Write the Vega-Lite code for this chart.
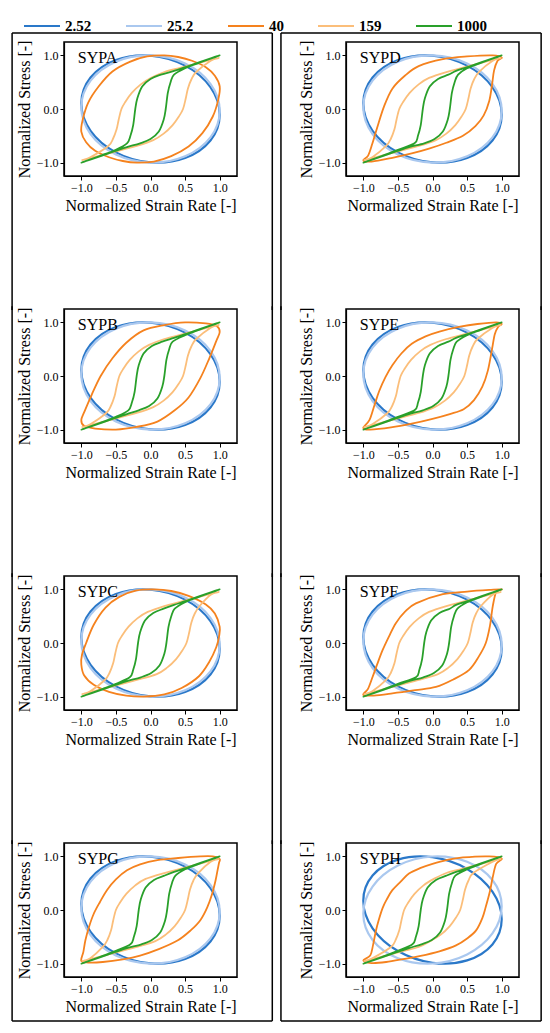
{
  "$schema": "https://vega.github.io/schema/vega-lite/v6.json",
  "background": "white",
  "padding": {"left": 10, "top": 7, "right": 9, "bottom": 10},
  "config": {
    "view": {"stroke": "black", "strokeWidth": 1.5},
    "font": "Liberation Serif",
    "axis": {
      "labelFont": "Liberation Serif", "labelFontSize": 12, "labelColor": "black", "labelPadding": 2,
      "titleFont": "Liberation Serif", "titleFontSize": 16, "titleFontWeight": "normal", "titleColor": "black", "titlePadding": 4,
      "domainColor": "black", "domainWidth": 1.2, "tickColor": "black", "tickSize": 4, "grid": false
    },
    "legend": {
      "symbolType": "stroke", "symbolSize": 1296, "symbolStrokeWidth": 2,
      "labelFont": "Liberation Serif", "labelFontSize": 15, "labelFontWeight": "bold", "labelColor": "black",
      "labelOffset": 4, "columnPadding": 30
    }
  },
  "datasets": {
    "SYPA": [
      {"s":"2.52","x":1,"y":-0.105},{"s":"2.52","x":0.866,"y":0.407},{"s":"2.52","x":0.5,"y":0.809},{"s":"2.52","x":0,"y":0.995},{"s":"2.52","x":-0.5,"y":0.914},{"s":"2.52","x":-0.866,"y":0.588},{"s":"2.52","x":-1,"y":0.105},{"s":"2.52","x":-0.866,"y":-0.407},{"s":"2.52","x":-0.5,"y":-0.809},{"s":"2.52","x":0,"y":-0.995},{"s":"2.52","x":0.5,"y":-0.914},{"s":"2.52","x":0.866,"y":-0.588},
      {"s":"25.2","x":1,"y":-0.035},{"s":"25.2","x":0.866,"y":0.469},{"s":"25.2","x":0.5,"y":0.848},{"s":"25.2","x":0,"y":0.999},{"s":"25.2","x":-0.5,"y":0.883},{"s":"25.2","x":-0.866,"y":0.53},{"s":"25.2","x":-1,"y":0.035},{"s":"25.2","x":-0.866,"y":-0.469},{"s":"25.2","x":-0.5,"y":-0.848},{"s":"25.2","x":0,"y":-0.999},{"s":"25.2","x":0.5,"y":-0.883},{"s":"25.2","x":0.866,"y":-0.53},
      {"s":"40","x":1,"y":0.42},{"s":"40","x":0.93,"y":0.62},{"s":"40","x":0.8,"y":0.78},{"s":"40","x":0.6,"y":0.9},{"s":"40","x":0.4,"y":0.97},{"s":"40","x":0.2,"y":1},{"s":"40","x":-0.05,"y":0.98},{"s":"40","x":-0.3,"y":0.88},{"s":"40","x":-0.55,"y":0.7},{"s":"40","x":-0.75,"y":0.42},{"s":"40","x":-0.9,"y":0.12},{"s":"40","x":-0.98,"y":-0.2},{"s":"40","x":-1,"y":-0.42},{"s":"40","x":-0.93,"y":-0.62},{"s":"40","x":-0.8,"y":-0.78},{"s":"40","x":-0.6,"y":-0.9},{"s":"40","x":-0.4,"y":-0.97},{"s":"40","x":-0.2,"y":-1},{"s":"40","x":0.05,"y":-0.98},{"s":"40","x":0.3,"y":-0.88},{"s":"40","x":0.55,"y":-0.7},{"s":"40","x":0.75,"y":-0.45},{"s":"40","x":0.9,"y":-0.14},{"s":"40","x":0.98,"y":0.18},
      {"s":"159","x":0.98,"y":0.95},{"s":"159","x":0.7,"y":0.86},{"s":"159","x":0.44,"y":0.77},{"s":"159","x":0.2,"y":0.69},{"s":"159","x":0.01,"y":0.58},{"s":"159","x":-0.14,"y":0.46},{"s":"159","x":-0.27,"y":0.3},{"s":"159","x":-0.36,"y":0.14},{"s":"159","x":-0.42,"y":0},{"s":"159","x":-0.46,"y":-0.2},{"s":"159","x":-0.49,"y":-0.38},{"s":"159","x":-0.54,"y":-0.55},{"s":"159","x":-0.61,"y":-0.69},{"s":"159","x":-0.87,"y":-0.9},{"s":"159","x":-0.98,"y":-0.95},{"s":"159","x":-0.7,"y":-0.86},{"s":"159","x":-0.44,"y":-0.77},{"s":"159","x":-0.2,"y":-0.69},{"s":"159","x":0.04,"y":-0.58},{"s":"159","x":0.19,"y":-0.46},{"s":"159","x":0.32,"y":-0.3},{"s":"159","x":0.41,"y":-0.14},{"s":"159","x":0.47,"y":0},{"s":"159","x":0.51,"y":0.2},{"s":"159","x":0.54,"y":0.38},{"s":"159","x":0.59,"y":0.55},{"s":"159","x":0.66,"y":0.69},{"s":"159","x":0.87,"y":0.9},
      {"s":"1000","x":1,"y":1},{"s":"1000","x":0.7,"y":0.87},{"s":"1000","x":0.5,"y":0.78},{"s":"1000","x":0.34,"y":0.71},{"s":"1000","x":0.15,"y":0.64},{"s":"1000","x":0,"y":0.56},{"s":"1000","x":-0.12,"y":0.42},{"s":"1000","x":-0.19,"y":0.2},{"s":"1000","x":-0.22,"y":0},{"s":"1000","x":-0.25,"y":-0.3},{"s":"1000","x":-0.29,"y":-0.5},{"s":"1000","x":-0.34,"y":-0.64},{"s":"1000","x":-0.5,"y":-0.76},{"s":"1000","x":-0.7,"y":-0.86},{"s":"1000","x":-1,"y":-1},{"s":"1000","x":-0.7,"y":-0.87},{"s":"1000","x":-0.5,"y":-0.78},{"s":"1000","x":-0.34,"y":-0.71},{"s":"1000","x":-0.15,"y":-0.64},{"s":"1000","x":0,"y":-0.56},{"s":"1000","x":0.12,"y":-0.42},{"s":"1000","x":0.19,"y":-0.2},{"s":"1000","x":0.22,"y":0},{"s":"1000","x":0.25,"y":0.3},{"s":"1000","x":0.29,"y":0.5},{"s":"1000","x":0.34,"y":0.64},{"s":"1000","x":0.5,"y":0.76},{"s":"1000","x":0.7,"y":0.86}
    ],
    "SYPB": [
      {"s":"2.52","x":1,"y":-0.105},{"s":"2.52","x":0.866,"y":0.407},{"s":"2.52","x":0.5,"y":0.809},{"s":"2.52","x":0,"y":0.995},{"s":"2.52","x":-0.5,"y":0.914},{"s":"2.52","x":-0.866,"y":0.588},{"s":"2.52","x":-1,"y":0.105},{"s":"2.52","x":-0.866,"y":-0.407},{"s":"2.52","x":-0.5,"y":-0.809},{"s":"2.52","x":0,"y":-0.995},{"s":"2.52","x":0.5,"y":-0.914},{"s":"2.52","x":0.866,"y":-0.588},
      {"s":"25.2","x":1,"y":-0.035},{"s":"25.2","x":0.866,"y":0.469},{"s":"25.2","x":0.5,"y":0.848},{"s":"25.2","x":0,"y":0.999},{"s":"25.2","x":-0.5,"y":0.883},{"s":"25.2","x":-0.866,"y":0.53},{"s":"25.2","x":-1,"y":0.035},{"s":"25.2","x":-0.866,"y":-0.469},{"s":"25.2","x":-0.5,"y":-0.848},{"s":"25.2","x":0,"y":-0.999},{"s":"25.2","x":0.5,"y":-0.883},{"s":"25.2","x":0.866,"y":-0.53},
      {"s":"40","x":1,"y":0.82},{"s":"40","x":0.96,"y":0.93},{"s":"40","x":0.8,"y":0.98},{"s":"40","x":0.5,"y":1},{"s":"40","x":0.2,"y":0.95},{"s":"40","x":-0.1,"y":0.85},{"s":"40","x":-0.35,"y":0.62},{"s":"40","x":-0.55,"y":0.33},{"s":"40","x":-0.72,"y":0},{"s":"40","x":-0.85,"y":-0.35},{"s":"40","x":-0.95,"y":-0.65},{"s":"40","x":-1,"y":-0.82},{"s":"40","x":-0.96,"y":-0.93},{"s":"40","x":-0.8,"y":-0.98},{"s":"40","x":-0.5,"y":-1},{"s":"40","x":-0.2,"y":-0.95},{"s":"40","x":0.1,"y":-0.85},{"s":"40","x":0.35,"y":-0.64},{"s":"40","x":0.55,"y":-0.4},{"s":"40","x":0.72,"y":-0.04},{"s":"40","x":0.85,"y":0.33},{"s":"40","x":0.95,"y":0.65},
      {"s":"159","x":0.98,"y":0.95},{"s":"159","x":0.7,"y":0.86},{"s":"159","x":0.44,"y":0.77},{"s":"159","x":0.2,"y":0.69},{"s":"159","x":-0.02,"y":0.58},{"s":"159","x":-0.17,"y":0.46},{"s":"159","x":-0.3,"y":0.3},{"s":"159","x":-0.39,"y":0.14},{"s":"159","x":-0.45,"y":0},{"s":"159","x":-0.49,"y":-0.2},{"s":"159","x":-0.52,"y":-0.38},{"s":"159","x":-0.57,"y":-0.55},{"s":"159","x":-0.64,"y":-0.69},{"s":"159","x":-0.87,"y":-0.9},{"s":"159","x":-0.98,"y":-0.95},{"s":"159","x":-0.7,"y":-0.86},{"s":"159","x":-0.44,"y":-0.77},{"s":"159","x":-0.2,"y":-0.69},{"s":"159","x":0.04,"y":-0.58},{"s":"159","x":0.19,"y":-0.46},{"s":"159","x":0.32,"y":-0.3},{"s":"159","x":0.41,"y":-0.14},{"s":"159","x":0.47,"y":0},{"s":"159","x":0.51,"y":0.2},{"s":"159","x":0.54,"y":0.38},{"s":"159","x":0.59,"y":0.55},{"s":"159","x":0.66,"y":0.69},{"s":"159","x":0.87,"y":0.9},
      {"s":"1000","x":1,"y":1},{"s":"1000","x":0.7,"y":0.87},{"s":"1000","x":0.5,"y":0.78},{"s":"1000","x":0.34,"y":0.71},{"s":"1000","x":0.17,"y":0.64},{"s":"1000","x":0.02,"y":0.56},{"s":"1000","x":-0.1,"y":0.42},{"s":"1000","x":-0.17,"y":0.2},{"s":"1000","x":-0.2,"y":0},{"s":"1000","x":-0.23,"y":-0.3},{"s":"1000","x":-0.27,"y":-0.5},{"s":"1000","x":-0.32,"y":-0.64},{"s":"1000","x":-0.5,"y":-0.76},{"s":"1000","x":-0.7,"y":-0.86},{"s":"1000","x":-1,"y":-1},{"s":"1000","x":-0.7,"y":-0.87},{"s":"1000","x":-0.5,"y":-0.78},{"s":"1000","x":-0.34,"y":-0.71},{"s":"1000","x":-0.17,"y":-0.64},{"s":"1000","x":-0.02,"y":-0.56},{"s":"1000","x":0.1,"y":-0.42},{"s":"1000","x":0.17,"y":-0.2},{"s":"1000","x":0.2,"y":0},{"s":"1000","x":0.23,"y":0.3},{"s":"1000","x":0.27,"y":0.5},{"s":"1000","x":0.32,"y":0.64},{"s":"1000","x":0.5,"y":0.76},{"s":"1000","x":0.7,"y":0.86}
    ],
    "SYPC": [
      {"s":"2.52","x":1,"y":-0.105},{"s":"2.52","x":0.866,"y":0.407},{"s":"2.52","x":0.5,"y":0.809},{"s":"2.52","x":0,"y":0.995},{"s":"2.52","x":-0.5,"y":0.914},{"s":"2.52","x":-0.866,"y":0.588},{"s":"2.52","x":-1,"y":0.105},{"s":"2.52","x":-0.866,"y":-0.407},{"s":"2.52","x":-0.5,"y":-0.809},{"s":"2.52","x":0,"y":-0.995},{"s":"2.52","x":0.5,"y":-0.914},{"s":"2.52","x":0.866,"y":-0.588},
      {"s":"25.2","x":1,"y":-0.035},{"s":"25.2","x":0.866,"y":0.469},{"s":"25.2","x":0.5,"y":0.848},{"s":"25.2","x":0,"y":0.999},{"s":"25.2","x":-0.5,"y":0.883},{"s":"25.2","x":-0.866,"y":0.53},{"s":"25.2","x":-1,"y":0.035},{"s":"25.2","x":-0.866,"y":-0.469},{"s":"25.2","x":-0.5,"y":-0.848},{"s":"25.2","x":0,"y":-0.999},{"s":"25.2","x":0.5,"y":-0.883},{"s":"25.2","x":0.866,"y":-0.53},
      {"s":"40","x":1,"y":0.3},{"s":"40","x":0.93,"y":0.55},{"s":"40","x":0.8,"y":0.72},{"s":"40","x":0.55,"y":0.88},{"s":"40","x":0.3,"y":0.97},{"s":"40","x":0.05,"y":1},{"s":"40","x":-0.2,"y":0.98},{"s":"40","x":-0.45,"y":0.86},{"s":"40","x":-0.65,"y":0.66},{"s":"40","x":-0.82,"y":0.34},{"s":"40","x":-0.93,"y":0},{"s":"40","x":-0.99,"y":-0.22},{"s":"40","x":-1,"y":-0.4},{"s":"40","x":-0.96,"y":-0.6},{"s":"40","x":-0.82,"y":-0.78},{"s":"40","x":-0.6,"y":-0.91},{"s":"40","x":-0.35,"y":-0.98},{"s":"40","x":-0.1,"y":-1},{"s":"40","x":0.2,"y":-0.96},{"s":"40","x":0.45,"y":-0.84},{"s":"40","x":0.7,"y":-0.62},{"s":"40","x":0.85,"y":-0.35},{"s":"40","x":0.95,"y":-0.08},{"s":"40","x":0.99,"y":0.12},
      {"s":"159","x":0.98,"y":0.95},{"s":"159","x":0.7,"y":0.86},{"s":"159","x":0.44,"y":0.77},{"s":"159","x":0.2,"y":0.69},{"s":"159","x":-0.04,"y":0.58},{"s":"159","x":-0.19,"y":0.46},{"s":"159","x":-0.32,"y":0.3},{"s":"159","x":-0.41,"y":0.14},{"s":"159","x":-0.47,"y":0},{"s":"159","x":-0.51,"y":-0.2},{"s":"159","x":-0.54,"y":-0.38},{"s":"159","x":-0.59,"y":-0.55},{"s":"159","x":-0.66,"y":-0.69},{"s":"159","x":-0.87,"y":-0.9},{"s":"159","x":-0.98,"y":-0.95},{"s":"159","x":-0.7,"y":-0.86},{"s":"159","x":-0.44,"y":-0.77},{"s":"159","x":-0.2,"y":-0.69},{"s":"159","x":0.09,"y":-0.58},{"s":"159","x":0.24,"y":-0.46},{"s":"159","x":0.37,"y":-0.3},{"s":"159","x":0.46,"y":-0.14},{"s":"159","x":0.52,"y":0},{"s":"159","x":0.56,"y":0.2},{"s":"159","x":0.59,"y":0.38},{"s":"159","x":0.64,"y":0.55},{"s":"159","x":0.71,"y":0.69},{"s":"159","x":0.87,"y":0.9},
      {"s":"1000","x":1,"y":1},{"s":"1000","x":0.7,"y":0.87},{"s":"1000","x":0.5,"y":0.78},{"s":"1000","x":0.34,"y":0.71},{"s":"1000","x":0.19,"y":0.64},{"s":"1000","x":0.04,"y":0.56},{"s":"1000","x":-0.08,"y":0.42},{"s":"1000","x":-0.15,"y":0.2},{"s":"1000","x":-0.18,"y":0},{"s":"1000","x":-0.21,"y":-0.3},{"s":"1000","x":-0.25,"y":-0.5},{"s":"1000","x":-0.3,"y":-0.64},{"s":"1000","x":-0.5,"y":-0.76},{"s":"1000","x":-0.7,"y":-0.86},{"s":"1000","x":-1,"y":-1},{"s":"1000","x":-0.7,"y":-0.87},{"s":"1000","x":-0.5,"y":-0.78},{"s":"1000","x":-0.34,"y":-0.71},{"s":"1000","x":-0.14,"y":-0.64},{"s":"1000","x":0.01,"y":-0.56},{"s":"1000","x":0.13,"y":-0.42},{"s":"1000","x":0.2,"y":-0.2},{"s":"1000","x":0.23,"y":0},{"s":"1000","x":0.26,"y":0.3},{"s":"1000","x":0.3,"y":0.5},{"s":"1000","x":0.35,"y":0.64},{"s":"1000","x":0.5,"y":0.76},{"s":"1000","x":0.7,"y":0.86}
    ],
    "SYPD": [
      {"s":"2.52","x":1,"y":-0.105},{"s":"2.52","x":0.866,"y":0.407},{"s":"2.52","x":0.5,"y":0.809},{"s":"2.52","x":0,"y":0.995},{"s":"2.52","x":-0.5,"y":0.914},{"s":"2.52","x":-0.866,"y":0.588},{"s":"2.52","x":-1,"y":0.105},{"s":"2.52","x":-0.866,"y":-0.407},{"s":"2.52","x":-0.5,"y":-0.809},{"s":"2.52","x":0,"y":-0.995},{"s":"2.52","x":0.5,"y":-0.914},{"s":"2.52","x":0.866,"y":-0.588},
      {"s":"25.2","x":1,"y":-0.035},{"s":"25.2","x":0.866,"y":0.469},{"s":"25.2","x":0.5,"y":0.848},{"s":"25.2","x":0,"y":0.999},{"s":"25.2","x":-0.5,"y":0.883},{"s":"25.2","x":-0.866,"y":0.53},{"s":"25.2","x":-1,"y":0.035},{"s":"25.2","x":-0.866,"y":-0.469},{"s":"25.2","x":-0.5,"y":-0.848},{"s":"25.2","x":0,"y":-0.999},{"s":"25.2","x":0.5,"y":-0.883},{"s":"25.2","x":0.866,"y":-0.53},
      {"s":"40","x":1,"y":0.96},{"s":"40","x":0.87,"y":1},{"s":"40","x":0.5,"y":0.98},{"s":"40","x":0.15,"y":0.93},{"s":"40","x":-0.2,"y":0.8},{"s":"40","x":-0.4,"y":0.62},{"s":"40","x":-0.58,"y":0.38},{"s":"40","x":-0.7,"y":0.05},{"s":"40","x":-0.8,"y":-0.35},{"s":"40","x":-0.87,"y":-0.65},{"s":"40","x":-0.93,"y":-0.87},{"s":"40","x":-1,"y":-0.96},{"s":"40","x":-0.88,"y":-0.98},{"s":"40","x":-0.58,"y":-0.91},{"s":"40","x":-0.3,"y":-0.83},{"s":"40","x":-0.05,"y":-0.74},{"s":"40","x":0.2,"y":-0.63},{"s":"40","x":0.44,"y":-0.5},{"s":"40","x":0.62,"y":-0.32},{"s":"40","x":0.74,"y":-0.12},{"s":"40","x":0.82,"y":0.15},{"s":"40","x":0.86,"y":0.45},{"s":"40","x":0.89,"y":0.72},{"s":"40","x":0.94,"y":0.9},
      {"s":"159","x":0.98,"y":0.95},{"s":"159","x":0.7,"y":0.86},{"s":"159","x":0.44,"y":0.77},{"s":"159","x":0.2,"y":0.69},{"s":"159","x":-0.05,"y":0.58},{"s":"159","x":-0.2,"y":0.46},{"s":"159","x":-0.33,"y":0.3},{"s":"159","x":-0.42,"y":0.14},{"s":"159","x":-0.48,"y":0},{"s":"159","x":-0.52,"y":-0.2},{"s":"159","x":-0.55,"y":-0.38},{"s":"159","x":-0.6,"y":-0.55},{"s":"159","x":-0.67,"y":-0.69},{"s":"159","x":-0.87,"y":-0.9},{"s":"159","x":-0.98,"y":-0.95},{"s":"159","x":-0.7,"y":-0.86},{"s":"159","x":-0.44,"y":-0.77},{"s":"159","x":-0.2,"y":-0.69},{"s":"159","x":0.05,"y":-0.58},{"s":"159","x":0.2,"y":-0.46},{"s":"159","x":0.33,"y":-0.3},{"s":"159","x":0.42,"y":-0.14},{"s":"159","x":0.48,"y":0},{"s":"159","x":0.52,"y":0.2},{"s":"159","x":0.55,"y":0.38},{"s":"159","x":0.6,"y":0.55},{"s":"159","x":0.67,"y":0.69},{"s":"159","x":0.87,"y":0.9},
      {"s":"1000","x":1,"y":1},{"s":"1000","x":0.7,"y":0.87},{"s":"1000","x":0.5,"y":0.78},{"s":"1000","x":0.34,"y":0.71},{"s":"1000","x":0.23,"y":0.64},{"s":"1000","x":0.08,"y":0.56},{"s":"1000","x":-0.04,"y":0.42},{"s":"1000","x":-0.11,"y":0.2},{"s":"1000","x":-0.14,"y":0},{"s":"1000","x":-0.17,"y":-0.3},{"s":"1000","x":-0.21,"y":-0.5},{"s":"1000","x":-0.26,"y":-0.64},{"s":"1000","x":-0.5,"y":-0.76},{"s":"1000","x":-0.7,"y":-0.86},{"s":"1000","x":-1,"y":-1},{"s":"1000","x":-0.7,"y":-0.87},{"s":"1000","x":-0.5,"y":-0.78},{"s":"1000","x":-0.34,"y":-0.71},{"s":"1000","x":-0.12,"y":-0.64},{"s":"1000","x":0.03,"y":-0.56},{"s":"1000","x":0.15,"y":-0.42},{"s":"1000","x":0.22,"y":-0.2},{"s":"1000","x":0.25,"y":0},{"s":"1000","x":0.28,"y":0.3},{"s":"1000","x":0.32,"y":0.5},{"s":"1000","x":0.37,"y":0.64},{"s":"1000","x":0.5,"y":0.76},{"s":"1000","x":0.7,"y":0.86}
    ],
    "SYPE": [
      {"s":"2.52","x":1,"y":-0.105},{"s":"2.52","x":0.866,"y":0.407},{"s":"2.52","x":0.5,"y":0.809},{"s":"2.52","x":0,"y":0.995},{"s":"2.52","x":-0.5,"y":0.914},{"s":"2.52","x":-0.866,"y":0.588},{"s":"2.52","x":-1,"y":0.105},{"s":"2.52","x":-0.866,"y":-0.407},{"s":"2.52","x":-0.5,"y":-0.809},{"s":"2.52","x":0,"y":-0.995},{"s":"2.52","x":0.5,"y":-0.914},{"s":"2.52","x":0.866,"y":-0.588},
      {"s":"25.2","x":1,"y":-0.035},{"s":"25.2","x":0.866,"y":0.469},{"s":"25.2","x":0.5,"y":0.848},{"s":"25.2","x":0,"y":0.999},{"s":"25.2","x":-0.5,"y":0.883},{"s":"25.2","x":-0.866,"y":0.53},{"s":"25.2","x":-1,"y":0.035},{"s":"25.2","x":-0.866,"y":-0.469},{"s":"25.2","x":-0.5,"y":-0.848},{"s":"25.2","x":0,"y":-0.999},{"s":"25.2","x":0.5,"y":-0.883},{"s":"25.2","x":0.866,"y":-0.53},
      {"s":"40","x":1,"y":0.97},{"s":"40","x":0.92,"y":1},{"s":"40","x":0.65,"y":0.97},{"s":"40","x":0.4,"y":0.92},{"s":"40","x":0.1,"y":0.83},{"s":"40","x":-0.1,"y":0.74},{"s":"40","x":-0.3,"y":0.6},{"s":"40","x":-0.45,"y":0.42},{"s":"40","x":-0.58,"y":0.2},{"s":"40","x":-0.68,"y":-0.02},{"s":"40","x":-0.77,"y":-0.28},{"s":"40","x":-0.84,"y":-0.55},{"s":"40","x":-0.91,"y":-0.82},{"s":"40","x":-1,"y":-0.97},{"s":"40","x":-0.9,"y":-1},{"s":"40","x":-0.6,"y":-0.96},{"s":"40","x":-0.3,"y":-0.89},{"s":"40","x":0,"y":-0.8},{"s":"40","x":0.25,"y":-0.71},{"s":"40","x":0.45,"y":-0.62},{"s":"40","x":0.6,"y":-0.45},{"s":"40","x":0.72,"y":-0.2},{"s":"40","x":0.8,"y":0.1},{"s":"40","x":0.86,"y":0.5},{"s":"40","x":0.9,"y":0.78},{"s":"40","x":0.95,"y":0.92},
      {"s":"159","x":0.98,"y":0.95},{"s":"159","x":0.7,"y":0.86},{"s":"159","x":0.44,"y":0.77},{"s":"159","x":0.2,"y":0.69},{"s":"159","x":-0.03,"y":0.58},{"s":"159","x":-0.18,"y":0.46},{"s":"159","x":-0.31,"y":0.3},{"s":"159","x":-0.4,"y":0.14},{"s":"159","x":-0.46,"y":0},{"s":"159","x":-0.5,"y":-0.2},{"s":"159","x":-0.53,"y":-0.38},{"s":"159","x":-0.58,"y":-0.55},{"s":"159","x":-0.65,"y":-0.69},{"s":"159","x":-0.87,"y":-0.9},{"s":"159","x":-0.98,"y":-0.95},{"s":"159","x":-0.7,"y":-0.86},{"s":"159","x":-0.44,"y":-0.77},{"s":"159","x":-0.2,"y":-0.69},{"s":"159","x":0.03,"y":-0.58},{"s":"159","x":0.18,"y":-0.46},{"s":"159","x":0.31,"y":-0.3},{"s":"159","x":0.4,"y":-0.14},{"s":"159","x":0.46,"y":0},{"s":"159","x":0.5,"y":0.2},{"s":"159","x":0.53,"y":0.38},{"s":"159","x":0.58,"y":0.55},{"s":"159","x":0.65,"y":0.69},{"s":"159","x":0.87,"y":0.9},
      {"s":"1000","x":1,"y":1},{"s":"1000","x":0.7,"y":0.87},{"s":"1000","x":0.5,"y":0.78},{"s":"1000","x":0.34,"y":0.71},{"s":"1000","x":0.23,"y":0.64},{"s":"1000","x":0.08,"y":0.56},{"s":"1000","x":-0.04,"y":0.42},{"s":"1000","x":-0.11,"y":0.2},{"s":"1000","x":-0.14,"y":0},{"s":"1000","x":-0.17,"y":-0.3},{"s":"1000","x":-0.21,"y":-0.5},{"s":"1000","x":-0.26,"y":-0.64},{"s":"1000","x":-0.5,"y":-0.76},{"s":"1000","x":-0.7,"y":-0.86},{"s":"1000","x":-1,"y":-1},{"s":"1000","x":-0.7,"y":-0.87},{"s":"1000","x":-0.5,"y":-0.78},{"s":"1000","x":-0.34,"y":-0.71},{"s":"1000","x":-0.14,"y":-0.64},{"s":"1000","x":0.01,"y":-0.56},{"s":"1000","x":0.13,"y":-0.42},{"s":"1000","x":0.2,"y":-0.2},{"s":"1000","x":0.23,"y":0},{"s":"1000","x":0.26,"y":0.3},{"s":"1000","x":0.3,"y":0.5},{"s":"1000","x":0.35,"y":0.64},{"s":"1000","x":0.5,"y":0.76},{"s":"1000","x":0.7,"y":0.86}
    ],
    "SYPF": [
      {"s":"2.52","x":1,"y":-0.105},{"s":"2.52","x":0.866,"y":0.407},{"s":"2.52","x":0.5,"y":0.809},{"s":"2.52","x":0,"y":0.995},{"s":"2.52","x":-0.5,"y":0.914},{"s":"2.52","x":-0.866,"y":0.588},{"s":"2.52","x":-1,"y":0.105},{"s":"2.52","x":-0.866,"y":-0.407},{"s":"2.52","x":-0.5,"y":-0.809},{"s":"2.52","x":0,"y":-0.995},{"s":"2.52","x":0.5,"y":-0.914},{"s":"2.52","x":0.866,"y":-0.588},
      {"s":"25.2","x":1,"y":-0.035},{"s":"25.2","x":0.866,"y":0.469},{"s":"25.2","x":0.5,"y":0.848},{"s":"25.2","x":0,"y":0.999},{"s":"25.2","x":-0.5,"y":0.883},{"s":"25.2","x":-0.866,"y":0.53},{"s":"25.2","x":-1,"y":0.035},{"s":"25.2","x":-0.866,"y":-0.469},{"s":"25.2","x":-0.5,"y":-0.848},{"s":"25.2","x":0,"y":-0.999},{"s":"25.2","x":0.5,"y":-0.883},{"s":"25.2","x":0.866,"y":-0.53},
      {"s":"40","x":1,"y":1},{"s":"40","x":0.82,"y":0.99},{"s":"40","x":0.5,"y":0.96},{"s":"40","x":0.15,"y":0.91},{"s":"40","x":-0.24,"y":0.74},{"s":"40","x":-0.4,"y":0.58},{"s":"40","x":-0.53,"y":0.37},{"s":"40","x":-0.63,"y":0.12},{"s":"40","x":-0.72,"y":-0.13},{"s":"40","x":-0.8,"y":-0.4},{"s":"40","x":-0.865,"y":-0.63},{"s":"40","x":-0.93,"y":-0.85},{"s":"40","x":-1,"y":-0.97},{"s":"40","x":-0.85,"y":-0.98},{"s":"40","x":-0.58,"y":-0.94},{"s":"40","x":-0.25,"y":-0.88},{"s":"40","x":0.05,"y":-0.82},{"s":"40","x":0.3,"y":-0.68},{"s":"40","x":0.53,"y":-0.5},{"s":"40","x":0.67,"y":-0.25},{"s":"40","x":0.77,"y":0},{"s":"40","x":0.83,"y":0.32},{"s":"40","x":0.87,"y":0.68},{"s":"40","x":0.92,"y":0.95},
      {"s":"159","x":0.98,"y":0.95},{"s":"159","x":0.7,"y":0.86},{"s":"159","x":0.44,"y":0.77},{"s":"159","x":0.2,"y":0.69},{"s":"159","x":-0.05,"y":0.58},{"s":"159","x":-0.2,"y":0.46},{"s":"159","x":-0.33,"y":0.3},{"s":"159","x":-0.42,"y":0.14},{"s":"159","x":-0.48,"y":0},{"s":"159","x":-0.52,"y":-0.2},{"s":"159","x":-0.55,"y":-0.38},{"s":"159","x":-0.6,"y":-0.55},{"s":"159","x":-0.67,"y":-0.69},{"s":"159","x":-0.87,"y":-0.9},{"s":"159","x":-0.98,"y":-0.95},{"s":"159","x":-0.7,"y":-0.86},{"s":"159","x":-0.44,"y":-0.77},{"s":"159","x":-0.2,"y":-0.69},{"s":"159","x":0.08,"y":-0.58},{"s":"159","x":0.23,"y":-0.46},{"s":"159","x":0.36,"y":-0.3},{"s":"159","x":0.45,"y":-0.14},{"s":"159","x":0.51,"y":0},{"s":"159","x":0.55,"y":0.2},{"s":"159","x":0.58,"y":0.38},{"s":"159","x":0.63,"y":0.55},{"s":"159","x":0.7,"y":0.69},{"s":"159","x":0.87,"y":0.9},
      {"s":"1000","x":1,"y":1},{"s":"1000","x":0.7,"y":0.87},{"s":"1000","x":0.5,"y":0.78},{"s":"1000","x":0.34,"y":0.71},{"s":"1000","x":0.25,"y":0.64},{"s":"1000","x":0.1,"y":0.56},{"s":"1000","x":-0.02,"y":0.42},{"s":"1000","x":-0.09,"y":0.2},{"s":"1000","x":-0.12,"y":0},{"s":"1000","x":-0.15,"y":-0.3},{"s":"1000","x":-0.19,"y":-0.5},{"s":"1000","x":-0.24,"y":-0.64},{"s":"1000","x":-0.5,"y":-0.76},{"s":"1000","x":-0.7,"y":-0.86},{"s":"1000","x":-1,"y":-1},{"s":"1000","x":-0.7,"y":-0.87},{"s":"1000","x":-0.5,"y":-0.78},{"s":"1000","x":-0.34,"y":-0.71},{"s":"1000","x":-0.13,"y":-0.64},{"s":"1000","x":0.02,"y":-0.56},{"s":"1000","x":0.14,"y":-0.42},{"s":"1000","x":0.21,"y":-0.2},{"s":"1000","x":0.24,"y":0},{"s":"1000","x":0.27,"y":0.3},{"s":"1000","x":0.31,"y":0.5},{"s":"1000","x":0.36,"y":0.64},{"s":"1000","x":0.5,"y":0.76},{"s":"1000","x":0.7,"y":0.86}
    ],
    "SYPG": [
      {"s":"2.52","x":1,"y":-0.105},{"s":"2.52","x":0.866,"y":0.407},{"s":"2.52","x":0.5,"y":0.809},{"s":"2.52","x":0,"y":0.995},{"s":"2.52","x":-0.5,"y":0.914},{"s":"2.52","x":-0.866,"y":0.588},{"s":"2.52","x":-1,"y":0.105},{"s":"2.52","x":-0.866,"y":-0.407},{"s":"2.52","x":-0.5,"y":-0.809},{"s":"2.52","x":0,"y":-0.995},{"s":"2.52","x":0.5,"y":-0.914},{"s":"2.52","x":0.866,"y":-0.588},
      {"s":"25.2","x":1,"y":-0.035},{"s":"25.2","x":0.866,"y":0.469},{"s":"25.2","x":0.5,"y":0.848},{"s":"25.2","x":0,"y":0.999},{"s":"25.2","x":-0.5,"y":0.883},{"s":"25.2","x":-0.866,"y":0.53},{"s":"25.2","x":-1,"y":0.035},{"s":"25.2","x":-0.866,"y":-0.469},{"s":"25.2","x":-0.5,"y":-0.848},{"s":"25.2","x":0,"y":-0.999},{"s":"25.2","x":0.5,"y":-0.883},{"s":"25.2","x":0.866,"y":-0.53},
      {"s":"40","x":1,"y":0.95},{"s":"40","x":0.9,"y":1},{"s":"40","x":0.72,"y":1},{"s":"40","x":0.4,"y":0.97},{"s":"40","x":0.1,"y":0.93},{"s":"40","x":-0.15,"y":0.85},{"s":"40","x":-0.34,"y":0.74},{"s":"40","x":-0.5,"y":0.57},{"s":"40","x":-0.63,"y":0.37},{"s":"40","x":-0.73,"y":0.15},{"s":"40","x":-0.82,"y":-0.07},{"s":"40","x":-0.89,"y":-0.32},{"s":"40","x":-0.94,"y":-0.56},{"s":"40","x":-0.97,"y":-0.78},{"s":"40","x":-1,"y":-0.95},{"s":"40","x":-0.9,"y":-0.98},{"s":"40","x":-0.69,"y":-0.97},{"s":"40","x":-0.4,"y":-0.92},{"s":"40","x":-0.15,"y":-0.85},{"s":"40","x":0.12,"y":-0.73},{"s":"40","x":0.39,"y":-0.57},{"s":"40","x":0.58,"y":-0.38},{"s":"40","x":0.72,"y":-0.19},{"s":"40","x":0.82,"y":0.05},{"s":"40","x":0.89,"y":0.3},{"s":"40","x":0.94,"y":0.55},{"s":"40","x":0.97,"y":0.75},{"s":"40","x":0.99,"y":0.88},
      {"s":"159","x":0.98,"y":0.95},{"s":"159","x":0.7,"y":0.86},{"s":"159","x":0.44,"y":0.77},{"s":"159","x":0.2,"y":0.69},{"s":"159","x":-0.07,"y":0.58},{"s":"159","x":-0.22,"y":0.46},{"s":"159","x":-0.35,"y":0.3},{"s":"159","x":-0.44,"y":0.14},{"s":"159","x":-0.5,"y":0},{"s":"159","x":-0.54,"y":-0.2},{"s":"159","x":-0.57,"y":-0.38},{"s":"159","x":-0.62,"y":-0.55},{"s":"159","x":-0.69,"y":-0.69},{"s":"159","x":-0.87,"y":-0.9},{"s":"159","x":-0.98,"y":-0.95},{"s":"159","x":-0.7,"y":-0.86},{"s":"159","x":-0.44,"y":-0.77},{"s":"159","x":-0.2,"y":-0.69},{"s":"159","x":0.07,"y":-0.58},{"s":"159","x":0.22,"y":-0.46},{"s":"159","x":0.35,"y":-0.3},{"s":"159","x":0.44,"y":-0.14},{"s":"159","x":0.5,"y":0},{"s":"159","x":0.54,"y":0.2},{"s":"159","x":0.57,"y":0.38},{"s":"159","x":0.62,"y":0.55},{"s":"159","x":0.69,"y":0.69},{"s":"159","x":0.87,"y":0.9},
      {"s":"1000","x":1,"y":1},{"s":"1000","x":0.7,"y":0.87},{"s":"1000","x":0.5,"y":0.78},{"s":"1000","x":0.34,"y":0.71},{"s":"1000","x":0.2,"y":0.64},{"s":"1000","x":0.05,"y":0.56},{"s":"1000","x":-0.07,"y":0.42},{"s":"1000","x":-0.14,"y":0.2},{"s":"1000","x":-0.17,"y":0},{"s":"1000","x":-0.2,"y":-0.3},{"s":"1000","x":-0.24,"y":-0.5},{"s":"1000","x":-0.29,"y":-0.64},{"s":"1000","x":-0.5,"y":-0.76},{"s":"1000","x":-0.7,"y":-0.86},{"s":"1000","x":-1,"y":-1},{"s":"1000","x":-0.7,"y":-0.87},{"s":"1000","x":-0.5,"y":-0.78},{"s":"1000","x":-0.34,"y":-0.71},{"s":"1000","x":-0.13,"y":-0.64},{"s":"1000","x":0.02,"y":-0.56},{"s":"1000","x":0.14,"y":-0.42},{"s":"1000","x":0.21,"y":-0.2},{"s":"1000","x":0.24,"y":0},{"s":"1000","x":0.27,"y":0.3},{"s":"1000","x":0.31,"y":0.5},{"s":"1000","x":0.36,"y":0.64},{"s":"1000","x":0.5,"y":0.76},{"s":"1000","x":0.7,"y":0.86}
    ],
    "SYPH": [
      {"s":"2.52","x":1,"y":-0.174},{"s":"2.52","x":0.866,"y":0.342},{"s":"2.52","x":0.5,"y":0.766},{"s":"2.52","x":0,"y":0.985},{"s":"2.52","x":-0.5,"y":0.94},{"s":"2.52","x":-0.866,"y":0.643},{"s":"2.52","x":-1,"y":0.174},{"s":"2.52","x":-0.866,"y":-0.342},{"s":"2.52","x":-0.5,"y":-0.766},{"s":"2.52","x":0,"y":-0.985},{"s":"2.52","x":0.5,"y":-0.94},{"s":"2.52","x":0.866,"y":-0.643},
      {"s":"25.2","x":1,"y":0.07},{"s":"25.2","x":0.866,"y":0.559},{"s":"25.2","x":0.5,"y":0.899},{"s":"25.2","x":0,"y":0.998},{"s":"25.2","x":-0.5,"y":0.829},{"s":"25.2","x":-0.866,"y":0.438},{"s":"25.2","x":-1,"y":-0.07},{"s":"25.2","x":-0.866,"y":-0.559},{"s":"25.2","x":-0.5,"y":-0.899},{"s":"25.2","x":0,"y":-0.998},{"s":"25.2","x":0.5,"y":-0.829},{"s":"25.2","x":0.866,"y":-0.438},
      {"s":"40","x":1,"y":0.96},{"s":"40","x":0.82,"y":1},{"s":"40","x":0.44,"y":0.98},{"s":"40","x":0.2,"y":0.93},{"s":"40","x":0,"y":0.86},{"s":"40","x":-0.18,"y":0.78},{"s":"40","x":-0.34,"y":0.68},{"s":"40","x":-0.46,"y":0.53},{"s":"40","x":-0.58,"y":0.37},{"s":"40","x":-0.66,"y":0.2},{"s":"40","x":-0.72,"y":0.04},{"s":"40","x":-0.78,"y":-0.2},{"s":"40","x":-0.82,"y":-0.4},{"s":"40","x":-0.86,"y":-0.66},{"s":"40","x":-0.9,"y":-0.85},{"s":"40","x":-1,"y":-0.94},{"s":"40","x":-0.88,"y":-0.99},{"s":"40","x":-0.67,"y":-0.97},{"s":"40","x":-0.4,"y":-0.91},{"s":"40","x":-0.19,"y":-0.86},{"s":"40","x":0.1,"y":-0.77},{"s":"40","x":0.34,"y":-0.66},{"s":"40","x":0.5,"y":-0.53},{"s":"40","x":0.63,"y":-0.38},{"s":"40","x":0.72,"y":-0.15},{"s":"40","x":0.77,"y":0.06},{"s":"40","x":0.83,"y":0.35},{"s":"40","x":0.87,"y":0.61},{"s":"40","x":0.92,"y":0.86},
      {"s":"159","x":0.98,"y":0.95},{"s":"159","x":0.7,"y":0.86},{"s":"159","x":0.44,"y":0.77},{"s":"159","x":0.2,"y":0.69},{"s":"159","x":0.02,"y":0.58},{"s":"159","x":-0.13,"y":0.46},{"s":"159","x":-0.26,"y":0.3},{"s":"159","x":-0.35,"y":0.14},{"s":"159","x":-0.41,"y":0},{"s":"159","x":-0.45,"y":-0.2},{"s":"159","x":-0.48,"y":-0.38},{"s":"159","x":-0.53,"y":-0.55},{"s":"159","x":-0.6,"y":-0.69},{"s":"159","x":-0.87,"y":-0.9},{"s":"159","x":-0.98,"y":-0.95},{"s":"159","x":-0.7,"y":-0.86},{"s":"159","x":-0.44,"y":-0.77},{"s":"159","x":-0.2,"y":-0.69},{"s":"159","x":-0.03,"y":-0.58},{"s":"159","x":0.12,"y":-0.46},{"s":"159","x":0.25,"y":-0.3},{"s":"159","x":0.34,"y":-0.14},{"s":"159","x":0.4,"y":0},{"s":"159","x":0.44,"y":0.2},{"s":"159","x":0.47,"y":0.38},{"s":"159","x":0.52,"y":0.55},{"s":"159","x":0.59,"y":0.69},{"s":"159","x":0.87,"y":0.9},
      {"s":"1000","x":1,"y":1},{"s":"1000","x":0.7,"y":0.87},{"s":"1000","x":0.5,"y":0.78},{"s":"1000","x":0.34,"y":0.71},{"s":"1000","x":0.2,"y":0.64},{"s":"1000","x":0.05,"y":0.56},{"s":"1000","x":-0.07,"y":0.42},{"s":"1000","x":-0.14,"y":0.2},{"s":"1000","x":-0.17,"y":0},{"s":"1000","x":-0.2,"y":-0.3},{"s":"1000","x":-0.24,"y":-0.5},{"s":"1000","x":-0.29,"y":-0.64},{"s":"1000","x":-0.5,"y":-0.76},{"s":"1000","x":-0.7,"y":-0.86},{"s":"1000","x":-1,"y":-1},{"s":"1000","x":-0.7,"y":-0.87},{"s":"1000","x":-0.5,"y":-0.78},{"s":"1000","x":-0.34,"y":-0.71},{"s":"1000","x":-0.16,"y":-0.64},{"s":"1000","x":-0.01,"y":-0.56},{"s":"1000","x":0.11,"y":-0.42},{"s":"1000","x":0.18,"y":-0.2},{"s":"1000","x":0.21,"y":0},{"s":"1000","x":0.24,"y":0.3},{"s":"1000","x":0.28,"y":0.5},{"s":"1000","x":0.33,"y":0.64},{"s":"1000","x":0.5,"y":0.76},{"s":"1000","x":0.7,"y":0.86}
    ]
  },
  "columns": 2,
  "spacing": {"row": 133, "column": 109},
  "bounds": "flush",
  "concat": [
    {
      "width": 173, "height": 134, "data": {"name": "SYPA"},
      "layer": [
        {"mark": {"type": "line", "interpolate": "cardinal-closed"},
         "encoding": {
           "x": {"field": "x", "type": "quantitative", "scale": {"domain": [-1.25, 1.25], "nice": false, "zero": false}, "axis": {"title": "Normalized Strain Rate [-]", "values": [-1, -0.5, 0, 0.5, 1], "format": ".1f", "labelFont": "Liberation Serif", "labelFontSize": 12, "titleFont": "Liberation Serif", "titleFontSize": 16}},
           "y": {"field": "y", "type": "quantitative", "scale": {"domain": [-1.25, 1.25], "nice": false, "zero": false}, "axis": {"title": "Normalized Stress [-]", "values": [-1, -0.5, 0, 0.5, 1], "format": ".1f", "labelFont": "Liberation Serif", "labelFontSize": 12, "titleFont": "Liberation Serif", "titleFontSize": 16}},
           "color": {"field": "s", "type": "nominal", "scale": {"domain": ["2.52", "25.2", "40", "159", "1000"], "range": ["#2a78c9", "#aac8ef", "#f5821e", "#fbbe7a", "#29a02a"]}, "legend": {"title": null, "orient": "none", "legendX": -41, "legendY": -35, "direction": "horizontal", "columns": 5, "labelFont": "Liberation Serif", "labelFontWeight": "bold", "labelFontSize": 15, "columnPadding": 30}},
           "strokeWidth": {"condition": {"test": "datum.s === '2.52' || datum.s === '25.2'", "value": 2.2}, "value": 1.8},
           "order": {"value": null}
         }},
        {"data": {"values": [{}]}, "mark": {"type": "text", "font": "Liberation Serif", "fontSize": 16, "align": "left", "baseline": "middle", "color": "black"}, "encoding": {"x": {"datum": -1.05}, "y": {"datum": 0.96}, "text": {"value": "SYPA"}}},
        {"data": {"values": [{}]}, "mark": {"type": "rule", "color": "black", "strokeWidth": 1.5}, "encoding": {"x": {"datum": -2.0}, "y": {"datum": 1.42}, "y2": {"datum": -3.75}}},
        {"data": {"values": [{}]}, "mark": {"type": "rule", "color": "black", "strokeWidth": 1.5}, "encoding": {"x": {"datum": 1.76}, "y": {"datum": 1.42}, "y2": {"datum": -3.75}}},
        {"data": {"values": [{}]}, "mark": {"type": "rule", "color": "black", "strokeWidth": 1.5}, "encoding": {"x": {"datum": -2.0}, "x2": {"datum": 1.76}, "y": {"datum": 1.42}}}
      ]
    },
    {
      "width": 173, "height": 134, "data": {"name": "SYPD"},
      "layer": [
        {"mark": {"type": "line", "interpolate": "cardinal-closed"},
         "encoding": {
           "x": {"field": "x", "type": "quantitative", "scale": {"domain": [-1.25, 1.25], "nice": false, "zero": false}, "axis": {"title": "Normalized Strain Rate [-]", "values": [-1, -0.5, 0, 0.5, 1], "format": ".1f", "labelFont": "Liberation Serif", "labelFontSize": 12, "titleFont": "Liberation Serif", "titleFontSize": 16}},
           "y": {"field": "y", "type": "quantitative", "scale": {"domain": [-1.25, 1.25], "nice": false, "zero": false}, "axis": {"title": "Normalized Stress [-]", "values": [-1, -0.5, 0, 0.5, 1], "format": ".1f", "labelFont": "Liberation Serif", "labelFontSize": 12, "titleFont": "Liberation Serif", "titleFontSize": 16}},
           "color": {"field": "s", "type": "nominal", "scale": {"domain": ["2.52", "25.2", "40", "159", "1000"], "range": ["#2a78c9", "#aac8ef", "#f5821e", "#fbbe7a", "#29a02a"]}, "legend": {"title": null, "orient": "none", "legendX": -41, "legendY": -35, "direction": "horizontal", "columns": 5, "labelFont": "Liberation Serif", "labelFontWeight": "bold", "labelFontSize": 15, "columnPadding": 30}},
           "strokeWidth": {"condition": {"test": "datum.s === '2.52' || datum.s === '25.2'", "value": 2.2}, "value": 1.8},
           "order": {"value": null}
         }},
        {"data": {"values": [{}]}, "mark": {"type": "text", "font": "Liberation Serif", "fontSize": 16, "align": "left", "baseline": "middle", "color": "black"}, "encoding": {"x": {"datum": -1.05}, "y": {"datum": 0.96}, "text": {"value": "SYPD"}}},
        {"data": {"values": [{}]}, "mark": {"type": "rule", "color": "black", "strokeWidth": 1.5}, "encoding": {"x": {"datum": -2.19}, "y": {"datum": 1.42}, "y2": {"datum": -3.75}}},
        {"data": {"values": [{}]}, "mark": {"type": "rule", "color": "black", "strokeWidth": 1.5}, "encoding": {"x": {"datum": 1.57}, "y": {"datum": 1.42}, "y2": {"datum": -3.75}}},
        {"data": {"values": [{}]}, "mark": {"type": "rule", "color": "black", "strokeWidth": 1.5}, "encoding": {"x": {"datum": -2.19}, "x2": {"datum": 1.57}, "y": {"datum": 1.42}}}
      ]
    },
    {
      "width": 173, "height": 134, "data": {"name": "SYPB"},
      "layer": [
        {"mark": {"type": "line", "interpolate": "cardinal-closed"},
         "encoding": {
           "x": {"field": "x", "type": "quantitative", "scale": {"domain": [-1.25, 1.25], "nice": false, "zero": false}, "axis": {"title": "Normalized Strain Rate [-]", "values": [-1, -0.5, 0, 0.5, 1], "format": ".1f", "labelFont": "Liberation Serif", "labelFontSize": 12, "titleFont": "Liberation Serif", "titleFontSize": 16}},
           "y": {"field": "y", "type": "quantitative", "scale": {"domain": [-1.25, 1.25], "nice": false, "zero": false}, "axis": {"title": "Normalized Stress [-]", "values": [-1, -0.5, 0, 0.5, 1], "format": ".1f", "labelFont": "Liberation Serif", "labelFontSize": 12, "titleFont": "Liberation Serif", "titleFontSize": 16}},
           "color": {"field": "s", "type": "nominal", "scale": {"domain": ["2.52", "25.2", "40", "159", "1000"], "range": ["#2a78c9", "#aac8ef", "#f5821e", "#fbbe7a", "#29a02a"]}, "legend": {"title": null, "orient": "none", "legendX": -41, "legendY": -35, "direction": "horizontal", "columns": 5, "labelFont": "Liberation Serif", "labelFontWeight": "bold", "labelFontSize": 15, "columnPadding": 30}},
           "strokeWidth": {"condition": {"test": "datum.s === '2.52' || datum.s === '25.2'", "value": 2.2}, "value": 1.8},
           "order": {"value": null}
         }},
        {"data": {"values": [{}]}, "mark": {"type": "text", "font": "Liberation Serif", "fontSize": 16, "align": "left", "baseline": "middle", "color": "black"}, "encoding": {"x": {"datum": -1.05}, "y": {"datum": 0.96}, "text": {"value": "SYPB"}}},
        {"data": {"values": [{}]}, "mark": {"type": "rule", "color": "black", "strokeWidth": 1.5}, "encoding": {"x": {"datum": -2.0}, "y": {"datum": 1.3}, "y2": {"datum": -3.75}}},
        {"data": {"values": [{}]}, "mark": {"type": "rule", "color": "black", "strokeWidth": 1.5}, "encoding": {"x": {"datum": 1.76}, "y": {"datum": 1.3}, "y2": {"datum": -3.75}}}
      ]
    },
    {
      "width": 173, "height": 134, "data": {"name": "SYPE"},
      "layer": [
        {"mark": {"type": "line", "interpolate": "cardinal-closed"},
         "encoding": {
           "x": {"field": "x", "type": "quantitative", "scale": {"domain": [-1.25, 1.25], "nice": false, "zero": false}, "axis": {"title": "Normalized Strain Rate [-]", "values": [-1, -0.5, 0, 0.5, 1], "format": ".1f", "labelFont": "Liberation Serif", "labelFontSize": 12, "titleFont": "Liberation Serif", "titleFontSize": 16}},
           "y": {"field": "y", "type": "quantitative", "scale": {"domain": [-1.25, 1.25], "nice": false, "zero": false}, "axis": {"title": "Normalized Stress [-]", "values": [-1, -0.5, 0, 0.5, 1], "format": ".1f", "labelFont": "Liberation Serif", "labelFontSize": 12, "titleFont": "Liberation Serif", "titleFontSize": 16}},
           "color": {"field": "s", "type": "nominal", "scale": {"domain": ["2.52", "25.2", "40", "159", "1000"], "range": ["#2a78c9", "#aac8ef", "#f5821e", "#fbbe7a", "#29a02a"]}, "legend": {"title": null, "orient": "none", "legendX": -41, "legendY": -35, "direction": "horizontal", "columns": 5, "labelFont": "Liberation Serif", "labelFontWeight": "bold", "labelFontSize": 15, "columnPadding": 30}},
           "strokeWidth": {"condition": {"test": "datum.s === '2.52' || datum.s === '25.2'", "value": 2.2}, "value": 1.8},
           "order": {"value": null}
         }},
        {"data": {"values": [{}]}, "mark": {"type": "text", "font": "Liberation Serif", "fontSize": 16, "align": "left", "baseline": "middle", "color": "black"}, "encoding": {"x": {"datum": -1.05}, "y": {"datum": 0.96}, "text": {"value": "SYPE"}}},
        {"data": {"values": [{}]}, "mark": {"type": "rule", "color": "black", "strokeWidth": 1.5}, "encoding": {"x": {"datum": -2.19}, "y": {"datum": 1.3}, "y2": {"datum": -3.75}}},
        {"data": {"values": [{}]}, "mark": {"type": "rule", "color": "black", "strokeWidth": 1.5}, "encoding": {"x": {"datum": 1.57}, "y": {"datum": 1.3}, "y2": {"datum": -3.75}}}
      ]
    },
    {
      "width": 173, "height": 134, "data": {"name": "SYPC"},
      "layer": [
        {"mark": {"type": "line", "interpolate": "cardinal-closed"},
         "encoding": {
           "x": {"field": "x", "type": "quantitative", "scale": {"domain": [-1.25, 1.25], "nice": false, "zero": false}, "axis": {"title": "Normalized Strain Rate [-]", "values": [-1, -0.5, 0, 0.5, 1], "format": ".1f", "labelFont": "Liberation Serif", "labelFontSize": 12, "titleFont": "Liberation Serif", "titleFontSize": 16}},
           "y": {"field": "y", "type": "quantitative", "scale": {"domain": [-1.25, 1.25], "nice": false, "zero": false}, "axis": {"title": "Normalized Stress [-]", "values": [-1, -0.5, 0, 0.5, 1], "format": ".1f", "labelFont": "Liberation Serif", "labelFontSize": 12, "titleFont": "Liberation Serif", "titleFontSize": 16}},
           "color": {"field": "s", "type": "nominal", "scale": {"domain": ["2.52", "25.2", "40", "159", "1000"], "range": ["#2a78c9", "#aac8ef", "#f5821e", "#fbbe7a", "#29a02a"]}, "legend": {"title": null, "orient": "none", "legendX": -41, "legendY": -35, "direction": "horizontal", "columns": 5, "labelFont": "Liberation Serif", "labelFontWeight": "bold", "labelFontSize": 15, "columnPadding": 30}},
           "strokeWidth": {"condition": {"test": "datum.s === '2.52' || datum.s === '25.2'", "value": 2.2}, "value": 1.8},
           "order": {"value": null}
         }},
        {"data": {"values": [{}]}, "mark": {"type": "text", "font": "Liberation Serif", "fontSize": 16, "align": "left", "baseline": "middle", "color": "black"}, "encoding": {"x": {"datum": -1.05}, "y": {"datum": 0.96}, "text": {"value": "SYPC"}}},
        {"data": {"values": [{}]}, "mark": {"type": "rule", "color": "black", "strokeWidth": 1.5}, "encoding": {"x": {"datum": -2.0}, "y": {"datum": 1.3}, "y2": {"datum": -3.75}}},
        {"data": {"values": [{}]}, "mark": {"type": "rule", "color": "black", "strokeWidth": 1.5}, "encoding": {"x": {"datum": 1.76}, "y": {"datum": 1.3}, "y2": {"datum": -3.75}}}
      ]
    },
    {
      "width": 173, "height": 134, "data": {"name": "SYPF"},
      "layer": [
        {"mark": {"type": "line", "interpolate": "cardinal-closed"},
         "encoding": {
           "x": {"field": "x", "type": "quantitative", "scale": {"domain": [-1.25, 1.25], "nice": false, "zero": false}, "axis": {"title": "Normalized Strain Rate [-]", "values": [-1, -0.5, 0, 0.5, 1], "format": ".1f", "labelFont": "Liberation Serif", "labelFontSize": 12, "titleFont": "Liberation Serif", "titleFontSize": 16}},
           "y": {"field": "y", "type": "quantitative", "scale": {"domain": [-1.25, 1.25], "nice": false, "zero": false}, "axis": {"title": "Normalized Stress [-]", "values": [-1, -0.5, 0, 0.5, 1], "format": ".1f", "labelFont": "Liberation Serif", "labelFontSize": 12, "titleFont": "Liberation Serif", "titleFontSize": 16}},
           "color": {"field": "s", "type": "nominal", "scale": {"domain": ["2.52", "25.2", "40", "159", "1000"], "range": ["#2a78c9", "#aac8ef", "#f5821e", "#fbbe7a", "#29a02a"]}, "legend": {"title": null, "orient": "none", "legendX": -41, "legendY": -35, "direction": "horizontal", "columns": 5, "labelFont": "Liberation Serif", "labelFontWeight": "bold", "labelFontSize": 15, "columnPadding": 30}},
           "strokeWidth": {"condition": {"test": "datum.s === '2.52' || datum.s === '25.2'", "value": 2.2}, "value": 1.8},
           "order": {"value": null}
         }},
        {"data": {"values": [{}]}, "mark": {"type": "text", "font": "Liberation Serif", "fontSize": 16, "align": "left", "baseline": "middle", "color": "black"}, "encoding": {"x": {"datum": -1.05}, "y": {"datum": 0.96}, "text": {"value": "SYPF"}}},
        {"data": {"values": [{}]}, "mark": {"type": "rule", "color": "black", "strokeWidth": 1.5}, "encoding": {"x": {"datum": -2.19}, "y": {"datum": 1.3}, "y2": {"datum": -3.75}}},
        {"data": {"values": [{}]}, "mark": {"type": "rule", "color": "black", "strokeWidth": 1.5}, "encoding": {"x": {"datum": 1.57}, "y": {"datum": 1.3}, "y2": {"datum": -3.75}}}
      ]
    },
    {
      "width": 173, "height": 134, "data": {"name": "SYPG"},
      "layer": [
        {"mark": {"type": "line", "interpolate": "cardinal-closed"},
         "encoding": {
           "x": {"field": "x", "type": "quantitative", "scale": {"domain": [-1.25, 1.25], "nice": false, "zero": false}, "axis": {"title": "Normalized Strain Rate [-]", "values": [-1, -0.5, 0, 0.5, 1], "format": ".1f", "labelFont": "Liberation Serif", "labelFontSize": 12, "titleFont": "Liberation Serif", "titleFontSize": 16}},
           "y": {"field": "y", "type": "quantitative", "scale": {"domain": [-1.25, 1.25], "nice": false, "zero": false}, "axis": {"title": "Normalized Stress [-]", "values": [-1, -0.5, 0, 0.5, 1], "format": ".1f", "labelFont": "Liberation Serif", "labelFontSize": 12, "titleFont": "Liberation Serif", "titleFontSize": 16}},
           "color": {"field": "s", "type": "nominal", "scale": {"domain": ["2.52", "25.2", "40", "159", "1000"], "range": ["#2a78c9", "#aac8ef", "#f5821e", "#fbbe7a", "#29a02a"]}, "legend": {"title": null, "orient": "none", "legendX": -41, "legendY": -35, "direction": "horizontal", "columns": 5, "labelFont": "Liberation Serif", "labelFontWeight": "bold", "labelFontSize": 15, "columnPadding": 30}},
           "strokeWidth": {"condition": {"test": "datum.s === '2.52' || datum.s === '25.2'", "value": 2.2}, "value": 1.8},
           "order": {"value": null}
         }},
        {"data": {"values": [{}]}, "mark": {"type": "text", "font": "Liberation Serif", "fontSize": 16, "align": "left", "baseline": "middle", "color": "black"}, "encoding": {"x": {"datum": -1.05}, "y": {"datum": 0.96}, "text": {"value": "SYPG"}}},
        {"data": {"values": [{}]}, "mark": {"type": "rule", "color": "black", "strokeWidth": 1.5}, "encoding": {"x": {"datum": -2.0}, "y": {"datum": 1.3}, "y2": {"datum": -2.07}}},
        {"data": {"values": [{}]}, "mark": {"type": "rule", "color": "black", "strokeWidth": 1.5}, "encoding": {"x": {"datum": 1.76}, "y": {"datum": 1.3}, "y2": {"datum": -2.07}}},
        {"data": {"values": [{}]}, "mark": {"type": "rule", "color": "black", "strokeWidth": 1.5}, "encoding": {"x": {"datum": -2.0}, "x2": {"datum": 1.76}, "y": {"datum": -2.07}}}
      ]
    },
    {
      "width": 173, "height": 134, "data": {"name": "SYPH"},
      "layer": [
        {"mark": {"type": "line", "interpolate": "cardinal-closed"},
         "encoding": {
           "x": {"field": "x", "type": "quantitative", "scale": {"domain": [-1.25, 1.25], "nice": false, "zero": false}, "axis": {"title": "Normalized Strain Rate [-]", "values": [-1, -0.5, 0, 0.5, 1], "format": ".1f", "labelFont": "Liberation Serif", "labelFontSize": 12, "titleFont": "Liberation Serif", "titleFontSize": 16}},
           "y": {"field": "y", "type": "quantitative", "scale": {"domain": [-1.25, 1.25], "nice": false, "zero": false}, "axis": {"title": "Normalized Stress [-]", "values": [-1, -0.5, 0, 0.5, 1], "format": ".1f", "labelFont": "Liberation Serif", "labelFontSize": 12, "titleFont": "Liberation Serif", "titleFontSize": 16}},
           "color": {"field": "s", "type": "nominal", "scale": {"domain": ["2.52", "25.2", "40", "159", "1000"], "range": ["#2a78c9", "#aac8ef", "#f5821e", "#fbbe7a", "#29a02a"]}, "legend": {"title": null, "orient": "none", "legendX": -41, "legendY": -35, "direction": "horizontal", "columns": 5, "labelFont": "Liberation Serif", "labelFontWeight": "bold", "labelFontSize": 15, "columnPadding": 30}},
           "strokeWidth": {"condition": {"test": "datum.s === '2.52' || datum.s === '25.2'", "value": 2.2}, "value": 1.8},
           "order": {"value": null}
         }},
        {"data": {"values": [{}]}, "mark": {"type": "text", "font": "Liberation Serif", "fontSize": 16, "align": "left", "baseline": "middle", "color": "black"}, "encoding": {"x": {"datum": -1.05}, "y": {"datum": 0.96}, "text": {"value": "SYPH"}}},
        {"data": {"values": [{}]}, "mark": {"type": "rule", "color": "black", "strokeWidth": 1.5}, "encoding": {"x": {"datum": -2.19}, "y": {"datum": 1.3}, "y2": {"datum": -2.07}}},
        {"data": {"values": [{}]}, "mark": {"type": "rule", "color": "black", "strokeWidth": 1.5}, "encoding": {"x": {"datum": 1.57}, "y": {"datum": 1.3}, "y2": {"datum": -2.07}}},
        {"data": {"values": [{}]}, "mark": {"type": "rule", "color": "black", "strokeWidth": 1.5}, "encoding": {"x": {"datum": -2.19}, "x2": {"datum": 1.57}, "y": {"datum": -2.07}}}
      ]
    }
  ]
}
